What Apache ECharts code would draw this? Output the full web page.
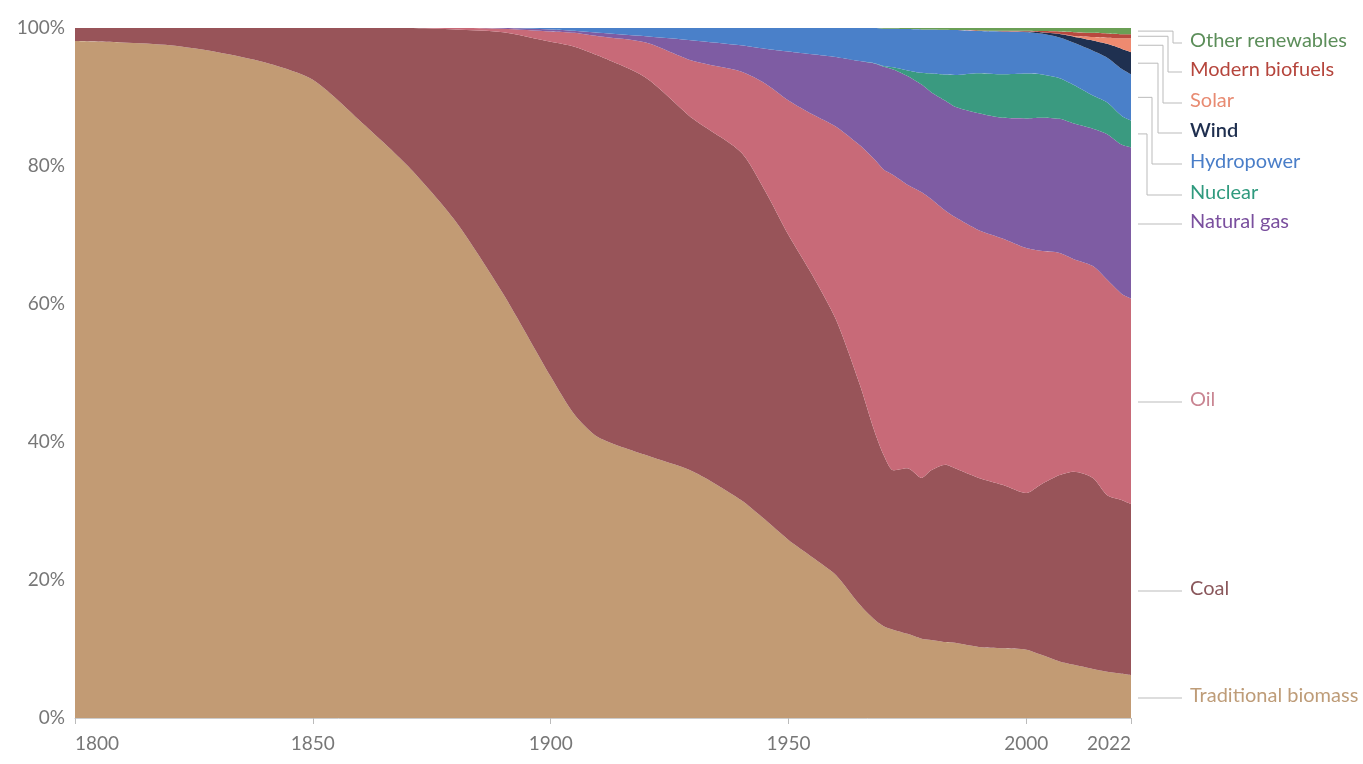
<!DOCTYPE html>
<html>
<head>
<meta charset="utf-8">
<script src="https://cdn.jsdelivr.net/npm/echarts@6/dist/echarts.min.js"></script>
<style>
  html, body { margin: 0; padding: 0; background: #fff; }
  #chart { width: 1363px; height: 764px; }
</style>
</head>
<body>
<div id="chart"></div>
<script>
// shares of global primary energy, percent
const years = [1800, 1810, 1820, 1830, 1840, 1850, 1860, 1870, 1880, 1890, 1900, 1905, 1910, 1920, 1930, 1940, 1945, 1950, 1955, 1960,
  1965, 1968, 1970, 1972, 1975, 1978, 1980, 1983, 1985, 1990, 1995, 2000, 2003, 2007, 2010, 2014, 2017, 2020, 2022];

const traditionalBiomass = [98.1, 97.9, 97.5, 96.5, 95.0, 92.5, 86.5, 80.0, 72.0, 61.5, 49.5, 44.0, 40.7, 38.1, 35.7, 31.6, 28.8, 25.8, 23.3, 20.7,
  16.4, 14.3, 13.3, 12.8, 12.2, 11.5, 11.3, 11.0, 10.9, 10.3, 10.1, 9.9, 9.2, 8.2, 7.7, 7.1, 6.7, 6.4, 6.2];
const coal = [1.9, 2.1, 2.5, 3.5, 5.0, 7.5, 13.5, 20.0, 27.8, 37.9, 48.5, 53.3, 55.3, 54.7, 51.1, 50.4, 47.7, 44.2, 40.9, 37.0,
  31.9, 27.4, 24.8, 23.1, 24.0, 23.3, 24.6, 25.7, 25.3, 24.5, 23.7, 22.7, 24.6, 27.0, 28.0, 27.7, 25.6, 25.2, 24.8];
const oil = [0, 0, 0, 0, 0, 0, 0, 0, 0.2, 0.5, 1.5, 2.0, 2.8, 5.1, 8.4, 11.7, 15.5, 19.5, 23.3, 28.0,
  34.7, 39.3, 41.4, 42.8, 41.1, 41.4, 39.3, 36.8, 36.4, 35.9, 35.7, 35.5, 33.9, 32.2, 30.8, 30.7, 31.2, 29.9, 29.8];
const naturalGas = [0, 0, 0, 0, 0, 0, 0, 0, 0, 0.1, 0.3, 0.3, 0.5, 0.9, 3.0, 3.8, 5.0, 7.1, 8.7, 10.1,
  12.2, 13.85, 14.9, 15.3, 15.75, 15.6, 15.5, 15.95, 16.0, 16.95, 17.48, 18.8, 19.3, 19.43, 19.65, 19.9, 21.1, 21.6, 21.9];
const nuclear = [0, 0, 0, 0, 0, 0, 0, 0, 0, 0, 0, 0, 0, 0, 0, 0, 0, 0, 0, 0,
  0, 0.05, 0.1, 0.3, 0.8, 1.7, 2.7, 3.8, 4.6, 5.8, 6.3, 6.5, 6.3, 5.9, 5.6, 4.8, 4.6, 4.2, 3.9];
const hydropower = [0, 0, 0, 0, 0, 0, 0, 0, 0, 0, 0.2, 0.4, 0.7, 1.2, 1.8, 2.5, 3.0, 3.4, 3.8, 4.2,
  4.8, 5.1, 5.4, 5.6, 6.0, 6.3, 6.4, 6.5, 6.5, 6.1, 6.2, 6.0, 5.9, 5.9, 6.1, 6.5, 6.5, 6.8, 6.7];
const wind = [0, 0, 0, 0, 0, 0, 0, 0, 0, 0, 0, 0, 0, 0, 0, 0, 0, 0, 0, 0,
  0, 0, 0, 0, 0, 0, 0, 0, 0, 0, 0.02, 0.1, 0.2, 0.5, 0.9, 1.5, 2.0, 2.9, 3.2];
const solar = [0, 0, 0, 0, 0, 0, 0, 0, 0, 0, 0, 0, 0, 0, 0, 0, 0, 0, 0, 0,
  0, 0, 0, 0, 0, 0, 0, 0, 0, 0, 0, 0, 0, 0.02, 0.1, 0.5, 0.9, 1.5, 2.0];
const modernBiofuels = [0, 0, 0, 0, 0, 0, 0, 0, 0, 0, 0, 0, 0, 0, 0, 0, 0, 0, 0, 0,
  0, 0, 0, 0, 0, 0, 0, 0, 0, 0.1, 0.1, 0.1, 0.15, 0.35, 0.55, 0.6, 0.6, 0.6, 0.6];
const otherRenewables = [0, 0, 0, 0, 0, 0, 0, 0, 0, 0, 0, 0, 0, 0, 0, 0, 0, 0, 0, 0,
  0, 0, 0.1, 0.1, 0.15, 0.2, 0.2, 0.25, 0.3, 0.35, 0.4, 0.4, 0.45, 0.5, 0.6, 0.7, 0.8, 0.9, 0.9];

const xTicks = [1800, 1850, 1900, 1950, 2000, 2022];

// bottom to top
const names = ['Traditional biomass', 'Coal', 'Oil', 'Natural gas', 'Nuclear', 'Hydropower', 'Wind', 'Solar', 'Modern biofuels', 'Other renewables'];
const values = [traditionalBiomass, coal, oil, naturalGas, nuclear, hydropower, wind, solar, modernBiofuels, otherRenewables];
const fills = ['#C29B74', '#985459', '#C86A78', '#7E5CA3', '#3A9A80', '#4A80C9', '#1F3050', '#EE8A70', '#B8493F', '#6A9F55'];
const textColors = ['#BE9C78', '#8A585C', '#C98592', '#7A4F9E', '#2F9A7E', '#4A7EC8', '#1F2F4F', '#E88B72', '#B5453C', '#5C8E5A'];

// right-hand label layout
const labelY = [698, 591, 402, 224, 195, 164, 133, 103, 72, 43];
const elbowX = [0, 0, 0, 0, 1147, 1152, 1158, 1163, 1168, 1173];

const chart = echarts.init(document.getElementById('chart'));

chart.setOption({
  animation: false,
  backgroundColor: '#fff',
  grid: { left: 75, right: 232, top: 28, bottom: 46 },
  xAxis: {
    type: 'value',
    min: 1800,
    max: 2022,
    splitLine: { show: false },
    axisLine: { show: true, lineStyle: { color: '#ccc' } },
    axisTick: { show: true, length: 6, customValues: xTicks, lineStyle: { color: '#bbb' } },
    axisLabel: {
      customValues: xTicks,
      formatter: v => String(v),
      margin: 16,
      color: '#777',
      fontSize: 19,
      fontFamily: 'Lato',
      alignMinLabel: 'left',
      alignMaxLabel: 'right'
    }
  },
  yAxis: {
    type: 'value',
    min: 0,
    max: 100,
    interval: 20,
    splitLine: { show: false },
    axisLine: { show: false },
    axisTick: { show: false },
    axisLabel: { formatter: '{value}%', color: '#777', fontSize: 19, fontFamily: 'Lato', margin: 10 }
  },
  // share first, year second, so the stack runs on the share
  series: names.map((n, i) => ({
    name: n,
    type: 'line',
    stack: 'total',
    smooth: 0.25,
    symbol: 'none',
    lineStyle: { width: 0 },
    areaStyle: { color: fills[i], opacity: 1 },
    itemStyle: { color: fills[i] },
    encode: { x: 1, y: 0 },
    data: years.map((y, j) => [values[i][j], y])
  }))
});

// connector lines + labels from the 2022 band midpoints
const last = years.length - 1;
const graphics = [];
let base = 0;
names.forEach((n, i) => {
  const v = values[i][last];
  const mid = chart.convertToPixel({ gridIndex: 0 }, [2022, base + v / 2]);
  base += v;
  const x0 = mid[0] + 7, y0 = mid[1], ly = labelY[i];
  let pts;
  if (elbowX[i]) {
    pts = [[x0, y0], [elbowX[i], y0], [elbowX[i], ly], [1182, ly]];
  } else {
    pts = [[x0, ly], [1182, ly]];
  }
  graphics.push({
    type: 'polyline',
    shape: { points: pts },
    style: { stroke: '#bbb', lineWidth: 1, fill: null },
    silent: true
  });
  graphics.push({
    type: 'text',
    left: 1190,
    top: ly - 12,
    style: {
      text: n,
      fill: textColors[i],
      font: (n === 'Wind' ? '600 ' : '') + '20px Lato'
    }
  });
});
chart.setOption({ graphic: graphics });
</script>
</body>
</html>
